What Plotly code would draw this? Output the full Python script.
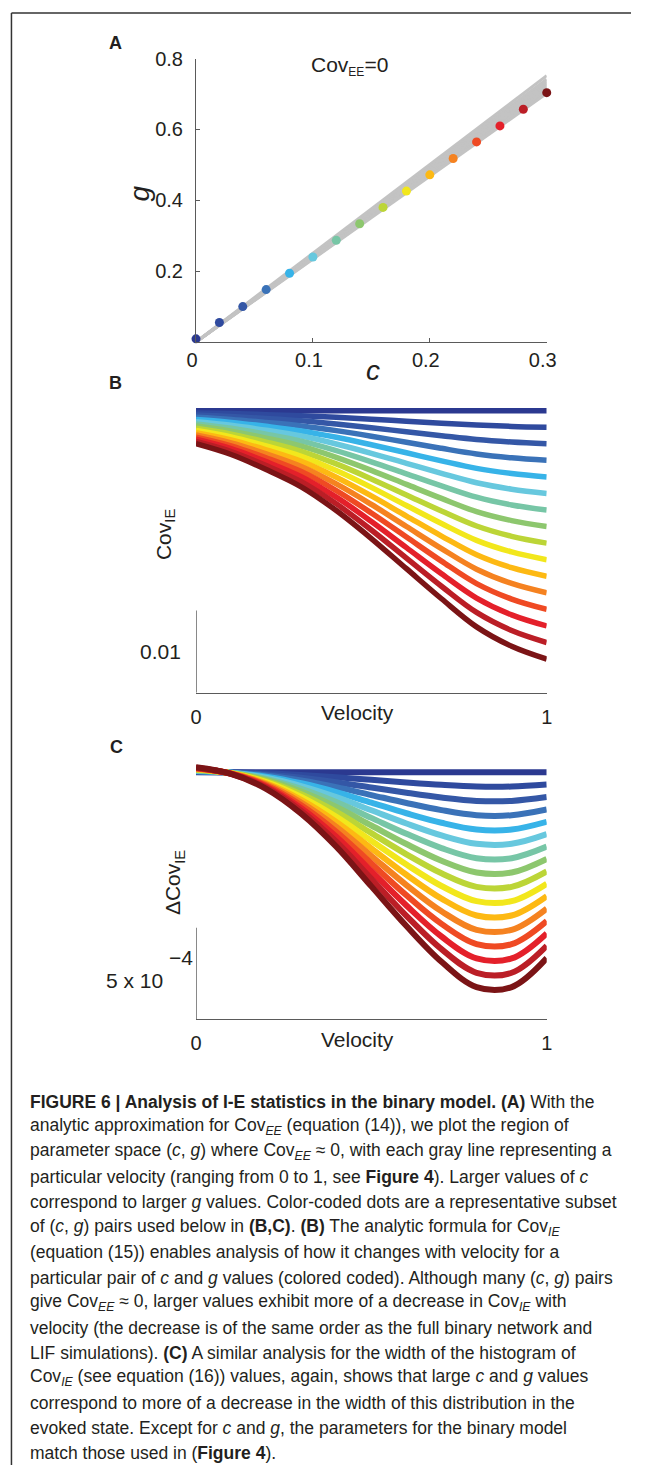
import plotly.graph_objects as go

# The page body keeps an 8px margin, so the figure is drawn 16px smaller and
# every position below is given in page pixels and shifted by OFF.
PAGE_W, PAGE_H = 657, 1481
OFF = 8
W, H = PAGE_W - 2 * OFF, PAGE_H - 2 * OFF

# ---------------- data ----------------
C_VALUES = [0.00, 0.02, 0.04, 0.06, 0.08, 0.10, 0.12, 0.14, 0.16, 0.18, 0.20, 0.22, 0.24, 0.26, 0.28, 0.30]
G_VALUES = [0.009, 0.055, 0.100, 0.148, 0.194, 0.240, 0.287, 0.334, 0.380, 0.426, 0.472, 0.518, 0.565, 0.610, 0.657, 0.704]
PAIR_COLORS = ["#2b3990", "#2f4a9e", "#3457a6", "#3a72b8", "#37b3e8", "#67c8de", "#77c6a6", "#8dc76e",
               "#bcd537", "#f2e71c", "#fdb913", "#f58220", "#ef4a23", "#e4202a", "#bb1e26", "#7b1416"]

GRAY_C = [0.0, 0.3]
GRAY_LINES_G = [[0.0, 0.752], [0.0, 0.742], [0.0, 0.737], [0.0, 0.732], [0.0, 0.727],
                [0.0, 0.722], [0.0, 0.717], [0.0, 0.712], [0.0, 0.707], [0.0, 0.702]]

VELOCITY = [0.0, 0.1, 0.2, 0.3, 0.4, 0.5, 0.6, 0.7, 0.8, 0.9, 1.0]

COV_IE = [
    [0.03425, 0.03425, 0.03425, 0.03425, 0.03425, 0.03425, 0.03425, 0.03425, 0.03425, 0.03425, 0.03425],
    [0.03398, 0.03390, 0.03377, 0.03363, 0.03344, 0.03322, 0.03297, 0.03273, 0.03250, 0.03234, 0.03224],
    [0.03372, 0.03354, 0.03330, 0.03302, 0.03263, 0.03218, 0.03169, 0.03121, 0.03075, 0.03044, 0.03023],
    [0.03345, 0.03319, 0.03282, 0.03240, 0.03183, 0.03115, 0.03041, 0.02968, 0.02900, 0.02853, 0.02822],
    [0.03318, 0.03283, 0.03235, 0.03179, 0.03102, 0.03011, 0.02914, 0.02816, 0.02725, 0.02663, 0.02621],
    [0.03291, 0.03248, 0.03187, 0.03117, 0.03021, 0.02908, 0.02786, 0.02664, 0.02550, 0.02472, 0.02420],
    [0.03265, 0.03212, 0.03139, 0.03055, 0.02940, 0.02804, 0.02658, 0.02512, 0.02375, 0.02281, 0.02219],
    [0.03238, 0.03177, 0.03092, 0.02994, 0.02859, 0.02701, 0.02530, 0.02360, 0.02200, 0.02091, 0.02018],
    [0.03211, 0.03141, 0.03044, 0.02932, 0.02779, 0.02597, 0.02402, 0.02207, 0.02025, 0.01900, 0.01817],
    [0.03184, 0.03106, 0.02997, 0.02871, 0.02698, 0.02494, 0.02274, 0.02055, 0.01851, 0.01710, 0.01616],
    [0.03158, 0.03070, 0.02949, 0.02809, 0.02617, 0.02390, 0.02146, 0.01903, 0.01676, 0.01519, 0.01415],
    [0.03131, 0.03035, 0.02901, 0.02747, 0.02536, 0.02287, 0.02019, 0.01751, 0.01501, 0.01328, 0.01214],
    [0.03104, 0.02999, 0.02854, 0.02686, 0.02455, 0.02183, 0.01891, 0.01599, 0.01326, 0.01138, 0.01013],
    [0.03078, 0.02964, 0.02806, 0.02624, 0.02375, 0.02080, 0.01763, 0.01446, 0.01151, 0.00947, 0.00812],
    [0.03051, 0.02929, 0.02759, 0.02563, 0.02294, 0.01977, 0.01635, 0.01294, 0.00976, 0.00757, 0.00611],
    [0.03024, 0.02893, 0.02711, 0.02501, 0.02213, 0.01873, 0.01507, 0.01142, 0.00801, 0.00566, 0.00410],
]

DCOV_IE = [
    [0.0013489, 0.0013489, 0.0013489, 0.0013489, 0.0013489, 0.0013489, 0.0013489, 0.0013489, 0.0013489, 0.0013489, 0.0013489],
    [0.0013507, 0.0013483, 0.0013429, 0.0013338, 0.0013218, 0.0013074, 0.0012929, 0.0012799, 0.0012707, 0.0012707, 0.0012813],
    [0.0013525, 0.0013477, 0.0013368, 0.0013188, 0.0012947, 0.0012658, 0.0012369, 0.0012109, 0.0011925, 0.0011925, 0.0012136],
    [0.0013543, 0.0013470, 0.0013308, 0.0013037, 0.0012676, 0.0012243, 0.0011810, 0.0011420, 0.0011143, 0.0011143, 0.0011460],
    [0.0013561, 0.0013464, 0.0013248, 0.0012887, 0.0012406, 0.0011828, 0.0011250, 0.0010730, 0.0010362, 0.0010362, 0.0010783],
    [0.0013579, 0.0013458, 0.0013187, 0.0012736, 0.0012135, 0.0011412, 0.0010690, 0.0010040, 0.0009580, 0.0009580, 0.0010107],
    [0.0013597, 0.0013452, 0.0013127, 0.0012585, 0.0011864, 0.0010997, 0.0010130, 0.0009350, 0.0008798, 0.0008798, 0.0009430],
    [0.0013615, 0.0013446, 0.0013067, 0.0012435, 0.0011593, 0.0010582, 0.0009570, 0.0008660, 0.0008016, 0.0008016, 0.0008754],
    [0.0013633, 0.0013439, 0.0013006, 0.0012284, 0.0011322, 0.0010166, 0.0009011, 0.0007971, 0.0007234, 0.0007234, 0.0008077],
    [0.0013651, 0.0013433, 0.0012946, 0.0012134, 0.0011051, 0.0009751, 0.0008451, 0.0007281, 0.0006452, 0.0006452, 0.0007401],
    [0.0013669, 0.0013427, 0.0012886, 0.0011983, 0.0010780, 0.0009336, 0.0007891, 0.0006591, 0.0005670, 0.0005670, 0.0006724],
    [0.0013687, 0.0013421, 0.0012825, 0.0011832, 0.0010509, 0.0008920, 0.0007331, 0.0005901, 0.0004888, 0.0004888, 0.0006048],
    [0.0013705, 0.0013415, 0.0012765, 0.0011682, 0.0010239, 0.0008505, 0.0006771, 0.0005211, 0.0004107, 0.0004107, 0.0005371],
    [0.0013723, 0.0013408, 0.0012705, 0.0011531, 0.0009968, 0.0008090, 0.0006212, 0.0004522, 0.0003325, 0.0003325, 0.0004695],
    [0.0013741, 0.0013402, 0.0012644, 0.0011381, 0.0009697, 0.0007674, 0.0005652, 0.0003832, 0.0002543, 0.0002543, 0.0004018],
    [0.0013759, 0.0013396, 0.0012584, 0.0011230, 0.0009426, 0.0007259, 0.0005092, 0.0003142, 0.0001761, 0.0001761, 0.0003342],
]

A_XTICKS = [0, 0.1, 0.2, 0.3]
A_XTICKTEXT = ["0", "0.1", "0.2", "0.3"]
A_YTICKS = [0.2, 0.4, 0.6, 0.8]
A_YTICKTEXT = ["0.2", "0.4", "0.6", "0.8"]
V_TICKS = [0, 1]
V_TICKTEXT = ["0", "1"]
SCALE_B = 0.01
SCALE_C = 5e-4

CAPTION = [
    "<b>FIGURE 6 | Analysis of I-E statistics in the binary model. (A)</b> With the",
    "analytic approximation for Cov<sub><i>EE</i></sub> (equation (14)), we plot the region of",
    "parameter space (<i>c</i>, <i>g</i>) where Cov<sub><i>EE</i></sub> \u2248 0, with each gray line representing a",
    "particular velocity (ranging from 0 to 1, see <b>Figure 4</b>). Larger values of <i>c</i>",
    "correspond to larger <i>g</i> values. Color-coded dots are a representative subset",
    "of (<i>c</i>, <i>g</i>) pairs used below in <b>(B,C)</b>. <b>(B)</b> The analytic formula for Cov<sub><i>IE</i></sub>",
    "(equation (15)) enables analysis of how it changes with velocity for a",
    "particular pair of <i>c</i> and <i>g</i> values (colored coded). Although many (<i>c</i>, <i>g</i>) pairs",
    "give Cov<sub><i>EE</i></sub> \u2248 0, larger values exhibit more of a decrease in Cov<sub><i>IE</i></sub> with",
    "velocity (the decrease is of the same order as the full binary network and",
    "LIF simulations). <b>(C)</b> A similar analysis for the width of the histogram of",
    "Cov<sub><i>IE</i></sub> (see equation (16)) values, again, shows that large <i>c</i> and <i>g</i> values",
    "correspond to more of a decrease in the width of this distribution in the",
    "evoked state. Except for <i>c</i> and <i>g</i>, the parameters for the binary model",
    "match those used in (<b>Figure 4</b>).",
]

# ---------------- helpers (page pixel -> paper fraction) ----------------
def px(x):
    return (x - OFF) / W

def py(y):
    return 1 - (y - OFF) / H

FONT = "Liberation Sans, Arial, sans-serif"
TXT = "#231f20"
AX = "#5a5a5a"

fig = go.Figure()

# Panel A: gray lines
for gl in GRAY_LINES_G:
    fig.add_trace(go.Scatter(x=GRAY_C, y=gl, mode="lines", line=dict(color="#c3c3c3", width=3),
                             xaxis="x", yaxis="y", showlegend=False, hoverinfo="skip"))
# Panel A: dots
fig.add_trace(go.Scatter(x=C_VALUES, y=G_VALUES, mode="markers",
                         marker=dict(color=PAIR_COLORS, size=9, line=dict(width=0)),
                         xaxis="x", yaxis="y", showlegend=False, cliponaxis=False))

# Panel B
for vals, col in zip(COV_IE, PAIR_COLORS):
    fig.add_trace(go.Scatter(x=VELOCITY, y=vals, mode="lines",
                             line=dict(color=col, width=5.5, shape="spline", smoothing=1.0),
                             xaxis="x2", yaxis="y2", showlegend=False, cliponaxis=False))
# Panel C
for vals, col in zip(DCOV_IE, PAIR_COLORS):
    fig.add_trace(go.Scatter(x=VELOCITY, y=vals, mode="lines",
                             line=dict(color=col, width=6, shape="spline", smoothing=1.0),
                             xaxis="x3", yaxis="y3", showlegend=False, cliponaxis=False))

xdom = [px(200), px(562)]
common_x = dict(showgrid=False, zeroline=False, showline=True, linecolor=AX, linewidth=1,
                tickfont=dict(family=FONT, size=20, color=TXT))

fig.update_layout(
    width=W, height=H, autosize=False,
    margin=dict(l=0, r=0, t=0, b=0),
    paper_bgcolor="white", plot_bgcolor="white",
    font=dict(family=FONT, color=TXT),
    xaxis=dict(domain=xdom, range=[0, 0.3], anchor="y", tickvals=A_XTICKS, ticktext=A_XTICKTEXT,
               ticks="inside", ticklen=4, tickcolor=AX, ticklabelshift=-4, **common_x),
    yaxis=dict(domain=[py(341.5), py(56)], range=[0, 0.8], anchor="x", tickvals=A_YTICKS,
               ticktext=A_YTICKTEXT, ticks="inside", ticklen=4, tickcolor=AX, showgrid=False,
               zeroline=False, showline=True, linecolor=AX, linewidth=1, ticklabelstandoff=8,
               tickfont=dict(family=FONT, size=20, color=TXT)),
    xaxis2=dict(domain=xdom, range=[0, 1], anchor="y2", tickvals=V_TICKS, ticktext=V_TICKTEXT,
                ticks="", ticklabelstandoff=6, **common_x),
    yaxis2=dict(domain=[py(695), py(400)], range=[0, 0.03554], anchor="x2", visible=False),
    xaxis3=dict(domain=xdom, range=[0, 1], anchor="y3", tickvals=V_TICKS, ticktext=V_TICKTEXT,
                ticks="", ticklabelstandoff=6, **common_x),
    yaxis3=dict(domain=[py(1024), py(765)], range=[0, 1.403e-3], anchor="x3", visible=False),
)

# scale bars
fig.add_shape(type="line", xref="x2", yref="y2", x0=0, x1=0, y0=0, y1=SCALE_B,
              line=dict(color="#4a4a4a", width=1.3))
fig.add_shape(type="line", xref="x3", yref="y3", x0=0, x1=0, y0=0, y1=SCALE_C,
              line=dict(color="#4a4a4a", width=1.3))

# frame (left and top edges)
fig.add_shape(type="line", xref="paper", yref="paper", x0=px(9.5), x1=px(9.5), y0=py(10), y1=0,
              line=dict(color="#333333", width=1.5))
fig.add_shape(type="line", xref="paper", yref="paper", x0=px(9.5), x1=1, y0=py(10), y1=py(10),
              line=dict(color="#333333", width=1.5))

def ann(text, x, y, size, **kw):
    d = dict(text=text, x=px(x), y=py(y), xref="paper", yref="paper", showarrow=False,
             font=dict(family=FONT, size=size, color=TXT), xanchor="center", yanchor="middle")
    d.update(kw)
    fig.add_annotation(**d)

ann("<b>A</b>", 117, 40, 18)
ann("<b>B</b>", 117, 383, 18)
ann("<b>C</b>", 118, 750, 18)
ann('Cov<sub><span style="font-size:12px">EE</span></sub>=0', 358, 63, 21)
ann("<i>g</i>", 142, 192, 28, textangle=-90)
ann("<i>c</i>", 383, 370, 28)
ann("Cov<sub>IE</sub>", 168, 536, 21, textangle=-90)
ann("0.01", 163, 653, 21)
ann("Velocity", 367, 715, 21)
ann("\u0394Cov<sub>IE</sub>", 178, 886, 21, textangle=-90)
ann("5 x 10", 137, 985, 21)
ann("\u22124", 185, 962, 21)
ann("Velocity", 367, 1044, 21)

for i, line in enumerate(CAPTION):
    ann(line, 27, 1107 + 25.3 * i, 17.5, xanchor="left")

fig.write_html("out.html")
